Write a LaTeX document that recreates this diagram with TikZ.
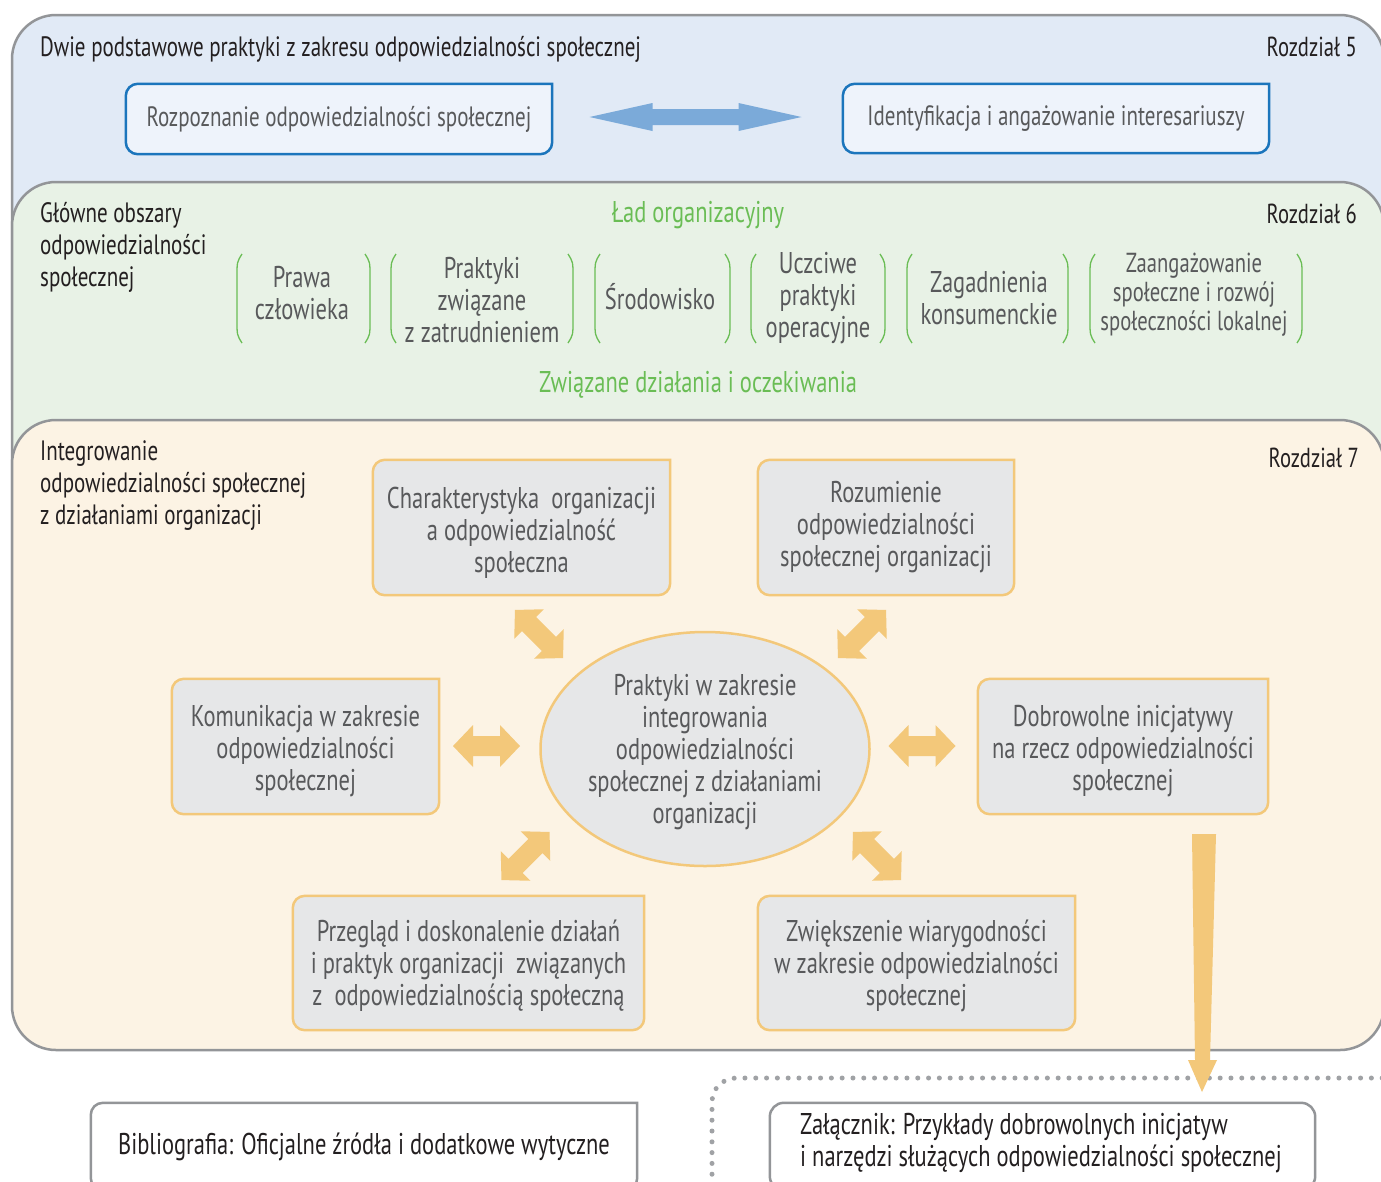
\documentclass[tikz,border=0pt]{standalone}
\usepackage{fontspec}
\setmainfont{PT Sans}[FakeStretch=0.75]
\usetikzlibrary{shapes.geometric,calc}
\definecolor{panelline}{HTML}{939598}
\definecolor{blueP}{HTML}{E1EAF6}
\definecolor{greenP}{HTML}{E8F2E6}
\definecolor{orangeP}{HTML}{FCF3E4}
\definecolor{blueBox}{HTML}{EEF3FB}
\definecolor{blueLine}{HTML}{1B75BC}
\definecolor{blueArr}{HTML}{7BAAD9}
\definecolor{greenT}{HTML}{6ABD55}
\definecolor{grayT}{HTML}{58595B}
\definecolor{darkT}{HTML}{231F20}
\definecolor{obox}{HTML}{E6E7E8}
\definecolor{oline}{HTML}{F3C87A}
\definecolor{dotc}{HTML}{A0A2A5}
\pgfdeclarelayer{panels}
\pgfdeclarelayer{boxes}
\pgfsetlayers{panels,boxes,main}
\newcommand\cutbox[2]{\draw[#1] (#2.north east) -- ($(#2.north west)+(12,0)$) arc[start angle=270,end angle=180,radius=12] -- ($(#2.south west)+(0,-12)$) arc[start angle=180,end angle=90,radius=12] -- ($(#2.south east)+(-12,0)$) arc[start angle=90,end angle=0,radius=12] -- cycle;}
\newcommand\fatarrow[8]{\fill[#8,shift={(#1,#2)},rotate=#3] (-#4,0) -- ({-#4+#5},#6) -- ({-#4+#5},#7) -- ({#4-#5},#7) -- ({#4-#5},#6) -- (#4,0) -- ({#4-#5},-#6) -- ({#4-#5},-#7) -- ({-#4+#5},-#7) -- ({-#4+#5},-#6) -- cycle;}
\newcommand\lpar[1]{\draw[parenline] ({#1+5},254) .. controls (#1,262) .. (#1,276) -- (#1,321) .. controls (#1,335) .. ({#1+5},343);}
\newcommand\rpar[1]{\draw[parenline] ({#1-5},254) .. controls (#1,262) .. (#1,276) -- (#1,321) .. controls (#1,335) .. ({#1-5},343);}
\begin{document}
\begin{tikzpicture}[x=1pt,y=-1pt,
  panel/.style={draw=panelline,line width=2.5pt,rounded corners=44pt},
  txt/.style={font=\fontsize{30}{32}\selectfont,text=grayT,inner sep=0pt,align=center},
  bluetxt/.style={font=\fontsize{28}{32}\selectfont,text=grayT,inner sep=0pt,align=center},
  smalltxt/.style={font=\fontsize{27.5}{29}\selectfont,text=grayT,inner sep=0pt,align=center},
  hdr/.style={font=\fontsize{28}{32}\selectfont,text=darkT,inner sep=0pt,align=left},
  rz/.style={font=\fontsize{27.5}{32}\selectfont,text=darkT,inner sep=0pt},
  foot/.style={font=\fontsize{30}{32}\selectfont,text=darkT,inner sep=0pt},
  gtitle/.style={font=\fontsize{30}{32}\selectfont,text=greenT,inner sep=0pt},
  frame/.style={minimum width=#1,inner sep=0pt},
  bluebox/.style={fill=blueBox,draw=blueLine,line width=2.5pt},
  orangebox/.style={fill=obox,draw=oline,line width=2.5pt},
  whitebox/.style={fill=white,draw=panelline,line width=2.5pt},
  parenline/.style={draw=greenT,line width=1.3pt},
  dotline/.style={draw=dotc,line width=5pt,line cap=round,dash pattern=on 0pt off 10.8pt,rounded corners=24pt}]
\useasboundingbox (0,0) rectangle (1381,1181);
\begin{pgfonlayer}{panels}
  \fill[white] (0,0) rectangle (1381,1181);
  \draw[panel,fill=blueP] (12,400) -- (12,15) -- (1384,15) -- (1384,400);
  \draw[panel,fill=greenP] (12,700) -- (12,182) -- (1384,182) -- (1384,700);
  \draw[panel,fill=orangeP] (12,420) -- (1384,420) -- (1384,1050) -- (12,1050) -- cycle;
\end{pgfonlayer}

% --- Rozdzial 5
\node[hdr,anchor=base west] (t5) at (40,56) {Dwie podstawowe praktyki z zakresu odpowiedzialności społecznej};
\node[rz,anchor=base east] (r5) at (1357,56) {Rozdział 5};
\node[bluetxt,minimum width=426pt,minimum height=70pt] (rozp) at (339,119) {Rozpoznanie odpowiedzialności społecznej};
\node[bluetxt,minimum width=426pt,minimum height=69pt] (ident) at (1056,118.5) {Identyfikacja i angażowanie interesariuszy};
\begin{pgfonlayer}{boxes}
  \cutbox{bluebox}{rozp}
  \cutbox{bluebox}{ident}
\end{pgfonlayer}
\fatarrow{695.5}{117}{0}{106}{63}{14}{8}{blueArr}

% --- Rozdzial 6
\node[hdr,anchor=west] (t6) at (40,247) {Główne obszary\\odpowiedzialności\\społecznej};
\node[rz,anchor=base east] (r6) at (1357,223) {Rozdział 6};
\node[gtitle] (lad) at (698,215) {Ład organizacyjny};
\node[gtitle] (zwi) at (698,385) {Związane działania i oczekiwania};
\lpar{237}\rpar{370}
\lpar{391}\rpar{573}
\lpar{595}\rpar{730}
\lpar{751}\rpar{885}
\lpar{907}\rpar{1068}
\lpar{1090}\rpar{1302}
\node[txt] (g1) at (302,293) {Prawa\\człowieka};
\node[txt] (g2) at (482,300) {Praktyki\\związane\\z zatrudnieniem};
\node[txt] (g3) at (660,297) {Środowisko};
\node[txt] (g4) at (818,298) {Uczciwe\\praktyki\\operacyjne};
\node[txt] (g5) at (989,298) {Zagadnienia\\konsumenckie};
\node[smalltxt] (g6) at (1194,295) {Zaangażowanie\\społeczne i rozwój\\społeczności lokalnej};

% --- Rozdzial 7
\node[hdr,anchor=west] (t7) at (40,486) {Integrowanie\\odpowiedzialności społecznej\\z działaniami organizacji};
\node[rz,anchor=base east] (r7) at (1359,467) {Rozdział 7};
% box frames
\node[frame=297pt,minimum height=135pt] (charakt) at (521.5,527.5) {};
\node[frame=256pt,minimum height=135pt] (rozum) at (886,527.5) {};
\node[frame=267pt,minimum height=135pt] (komun) at (305.5,746.5) {};
\node[frame=290pt,minimum height=135pt] (dobro) at (1123,746.5) {};
\node[frame=351pt,minimum height=134pt] (przeg) at (468.5,963) {};
\node[frame=317pt,minimum height=134pt] (zwiek) at (916.5,963) {};
\begin{pgfonlayer}{boxes}
  \cutbox{orangebox}{charakt}
  \cutbox{orangebox}{rozum}
  \cutbox{orangebox}{komun}
  \cutbox{orangebox}{dobro}
  \cutbox{orangebox}{przeg}
  \cutbox{orangebox}{zwiek}
\end{pgfonlayer}
% box texts
\node[txt] (charaktT) at (521.5,532.5) {Charakterystyka~ organizacji\\a odpowiedzialność\\społeczna};
\node[txt] (rozumT) at (886,527.5) {Rozumienie\\odpowiedzialności\\społecznej organizacji};
\node[txt] (komunT) at (305.5,751.5) {Komunikacja w zakresie\\odpowiedzialności\\społecznej};
\node[txt] (dobroT) at (1123,751.5) {Dobrowolne inicjatywy\\na rzecz odpowiedzialności\\społecznej};
\node[txt] (przegT) at (468.5,966) {Przegląd i doskonalenie działań\\i praktyk organizacji~ związanych\\z~ odpowiedzialnością społeczną};
\node[txt] (zwiekT) at (916.5,966) {Zwiększenie wiarygodności\\w zakresie odpowiedzialności\\społecznej};
\node[ellipse,minimum width=329pt,minimum height=234pt,fill=obox,draw=oline,line width=2.5pt] (core) at (705,749) {};
\node[txt] (coreT) at (705,752) {Praktyki w zakresie\\integrowania\\odpowiedzialności\\społecznej z działaniami\\organizacji};
\fatarrow{486.5}{746}{0}{33.5}{20}{21}{10}{oline}
\fatarrow{922}{746}{0}{33.5}{20}{21}{10}{oline}
\fatarrow{539}{634}{-45}{34}{20}{21}{10}{oline}
\fatarrow{862}{634}{45}{34}{20}{21}{10}{oline}
\fatarrow{525.5}{856}{45}{34}{20}{21}{10}{oline}
\fatarrow{877}{856}{-45}{34}{20}{21}{10}{oline}

% --- bottom
\coordinate (dstart) at (712,1185);
\coordinate (dcorner) at (712,1078);
\coordinate (dend) at (1392,1078);
\draw[dotline] (dstart) -- (dcorner) -- (dend);
\node[foot,minimum width=546pt,minimum height=87pt] (bib) at (364,1146.5) {Bibliografia: Oficjalne źródła i dodatkowe wytyczne};
\begin{pgfonlayer}{boxes}
  \cutbox{whitebox}{bib}
\end{pgfonlayer}
\node[frame=545pt,minimum height=87pt] (zal) at (1042.5,1146.5) {};
\node[foot,align=left,anchor=west] (zaltxt) at (800,1143) {Załącznik: Przykłady dobrowolnych inicjatyw\\i narzędzi służących odpowiedzialności społecznej};
\begin{pgfonlayer}{boxes}
  \draw[whitebox,rounded corners=14pt] (zal.north west) rectangle (zal.south east);
\end{pgfonlayer}
\fill[oline] ($(dobro.south)+(69,20)$) coordinate (da) -- ++(24,0) -- (1210,1060) -- (1217,1060) -- (1202,1092) -- (1188,1060) -- (1195,1060) -- cycle;
\end{tikzpicture}
\end{document}
